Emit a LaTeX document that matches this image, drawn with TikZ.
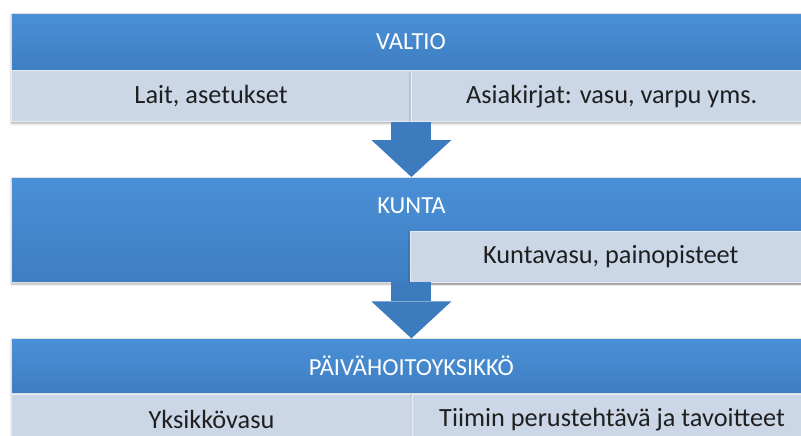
\documentclass[tikz,border=0pt]{standalone}
\usepackage{fontspec}
\setmainfont{Carlito}
\usetikzlibrary{arrows.meta,positioning,shadows.blur}

\definecolor{bandtop}{RGB}{74,144,214}
\definecolor{bandbottom}{RGB}{62,126,194}
\definecolor{cellfill}{RGB}{203,215,231}
\definecolor{flowblue}{RGB}{61,123,191}

\begin{document}
\begin{tikzpicture}[
    x=1pt, y=-1pt,
    node distance=0pt,
    softshadow/.style={blur shadow={shadow xshift=0pt, shadow yshift=-2pt, shadow blur steps=6, shadow opacity=30}},
    band/.style={rectangle, top color=bandtop, bottom color=bandbottom, draw=black!12, line width=0.4pt, minimum width=800pt, inner sep=0pt, text=white, font=\fontsize{24.5}{29}\selectfont, softshadow},
    cell/.style={rectangle, fill=cellfill, draw=white!55!cellfill, line width=0.6pt, minimum width=400pt, minimum height=51pt, inner sep=0pt, text=black!88, font=\fontsize{26.3}{31}\selectfont, softshadow},
    flow/.style={flowblue, line width=40pt, -{Triangle[length=37pt 0 0, width=80pt 0 0, line width=0pt 0 0]}}
]
\clip (0,0) rectangle (801,436);

% state level
\node[band, minimum height=57pt, anchor=north] (valtio) at (411,13) {VALTIO};
\node[cell, below right=of valtio.south west] (lait) {Lait, asetukset};
\node[cell, right=of lait] (asiakirjat) {Asiakirjat: vasu, varpu yms.};

% municipality level
\node[band, minimum height=105pt, text depth=48pt, below=55pt of lait.south east] (kunta) {KUNTA};
\node[cell, minimum width=401pt, above left=of kunta.south east] (kuntavasu) {Kuntavasu, painopisteet};

% day care unit level
\node[band, minimum height=55pt, below=56pt of kunta] (paiva) {PÄIVÄHOITOYKSIKKÖ};
\node[cell, below right=of paiva.south west] (yksikko) {Yksikkövasu};
\node[cell, right=of yksikko] (tiimi) {Tiimin perustehtävä ja tavoitteet};

% arrows
\draw[flow] (lait.south east) -- (kunta.north);
\draw[flow] (kunta.south) -- (paiva.north);

\end{tikzpicture}
\end{document}
